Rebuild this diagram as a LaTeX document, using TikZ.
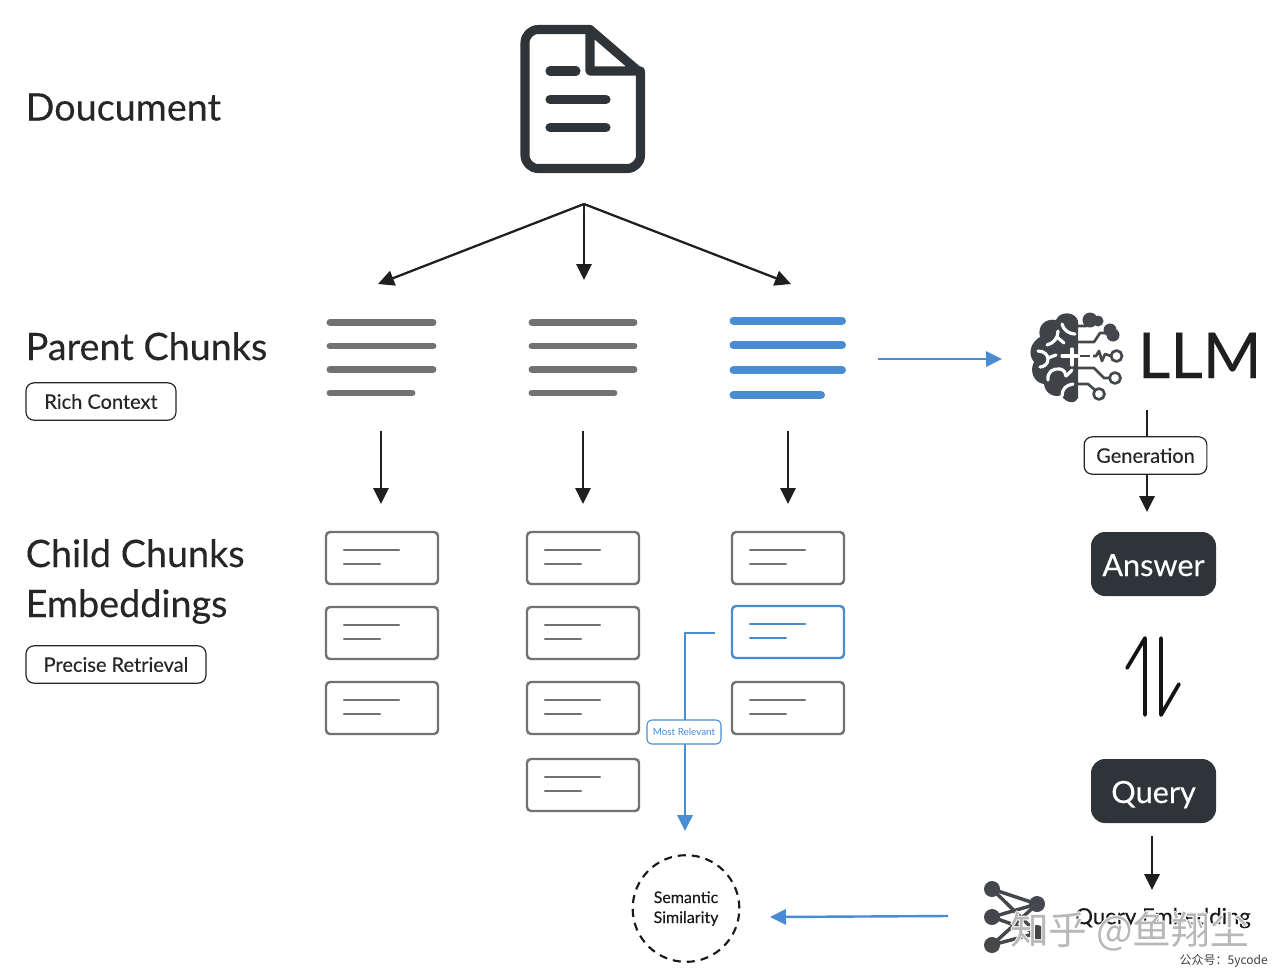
\documentclass[tikz,border=0pt]{standalone}
\usepackage{fontspec}
\setmainfont{Lato}
\newfontfamily\headfont[FakeBold=0.2]{Lato}
\newfontfamily\cjkfont{Noto Sans CJK SC}
\usetikzlibrary{arrows.meta,calc}
\definecolor{inkdark}{HTML}{2F3438}
\definecolor{chunkgray}{HTML}{727272}
\definecolor{chunkblue}{HTML}{4A8CD2}
\tikzset{
	flow/.style={line width=1.7pt, color=black!88, -{Triangle[length=12pt,width=11.5pt]}},
	flowblue/.style={line width=1.8pt, color=chunkblue, -{Triangle[length=12pt,width=11.5pt]}},
	heading/.style={anchor=base west, inner sep=0pt, font=\headfont\fontsize{28.3}{28.3}\selectfont, text=black!85},
	tagbox/.style={draw=black!85, fill=white, line width=0.9pt, rounded corners=6pt, inner sep=0pt, font=\headfont\fontsize{15}{15}\selectfont, text=black!85},
	darkbox/.style={fill=inkdark, rounded corners=10.5pt, minimum width=93.75pt, minimum height=48pt, inner sep=0pt, text=white, text height=18pt, text depth=0pt, font=\headfont\fontsize{23}{23}\selectfont},
	parentline/.style={line width=5.2pt, line cap=round, color=chunkgray},
	parentblue/.style={line width=6pt, line cap=round, color=chunkblue},
	childbox/.style={draw, line width=1.8pt, rounded corners=3pt, color=chunkgray},
	childline/.style={line width=1.7pt, line cap=round, color=chunkgray},
	iconline/.style={line width=6.8pt, line cap=round, line join=round, color=inkdark},
	brainwire/.style={line width=2pt, color=inkdark!90, line join=round},
	braincut/.style={line width=2.4pt, color=white, line cap=round},
	netline/.style={line width=2.6pt, color=inkdark!90},
}
\newcommand{\childchunk}[3][]{
	\draw[childbox,#1] (#2, #3) rectangle ++(112, 52);
	\draw[childline,#1] (#2+18, #3+18) -- ++(55, 0);
	\draw[childline,#1] (#2+18, #3+32) -- ++(36, 0);
}
\begin{document}
\begin{tikzpicture}[x=0.75pt, y=-0.75pt]
		%%%%% START %%%%%
		\useasboundingbox (0, 0) rectangle (1280, 979);
		
		% document icon
		\draw[iconline, rounded corners=10pt] (590, 29.5) -- (525, 29.5) -- (525, 168.5) -- (640.5, 168.5) -- (640.5, 73);
		\draw[iconline] (640.5, 73) -- (590, 29.5) -- (590, 71) -- (640.5, 71);
		\draw[iconline] (550, 71) -- (576, 71);
		\draw[iconline] (550, 99.5) -- (606, 99.5);
		\draw[iconline] (550, 127.5) -- (606, 127.5);
		
		\node[heading] (doctitle) at (25.5, 120.5) {Doucument};
		\node[heading] (parenttitle) at (25.5, 360) {Parent Chunks};
		\node[heading] (childtitle) at (25.5, 567) {Child Chunks};
		\node[heading] (embedtitle) at (25.5, 617) {Embeddings};
		\node[tagbox, minimum width=112.5pt, minimum height=28pt] (richtag) at (101, 401.5) {Rich Context};
		\node[tagbox, minimum width=135pt, minimum height=28pt] (precisetag) at (116, 664.5) {Precise Retrieval};
		
		% split arrows
		\coordinate (split) at (584, 204);
		\coordinate (parentA) at (378, 284);
		\coordinate (parentB) at (584, 280);
		\coordinate (parentC) at (791, 284);
		\draw[flow] (split) -- (parentA);
		\draw[flow] (split) -- (parentB);
		\draw[flow] (split) -- (parentC);
		
		% parent chunks
		\draw[parentline] (330, 322.5) -- (433, 322.5);
		\draw[parentline] (330, 346) -- (433, 346);
		\draw[parentline] (330, 369.5) -- (433, 369.5);
		\draw[parentline] (330, 393) -- (412, 393);
		\draw[parentline] (532, 322.5) -- (634, 322.5);
		\draw[parentline] (532, 346) -- (634, 346);
		\draw[parentline] (532, 369.5) -- (634, 369.5);
		\draw[parentline] (532, 393) -- (614, 393);
		\draw[parentblue] (733.5, 320.5) -- (842, 320.5);
		\draw[parentblue] (733.5, 345) -- (842, 345);
		\draw[parentblue] (733.5, 370) -- (842, 370);
		\draw[parentblue] (733.5, 395) -- (821, 395);
		
		% parent to child
		\coordinate (downAtop) at (381, 431);
		\coordinate (downAend) at (381, 504);
		\coordinate (downBtop) at (583, 431);
		\coordinate (downBend) at (583, 504);
		\coordinate (downCtop) at (788, 431);
		\coordinate (downCend) at (788, 504);
		\draw[flow] (downAtop) -- (downAend);
		\draw[flow] (downBtop) -- (downBend);
		\draw[flow] (downCtop) -- (downCend);
		
		% child chunks
		\foreach \y in {532, 607, 682} {
			\childchunk{326}{\y}
		}
		\foreach \y in {532, 607, 682, 759} {
			\childchunk{527}{\y}
		}
		\childchunk{732}{532}
		\childchunk[color=chunkblue]{732}{606}
		\childchunk{732}{682}
		
		% most relevant
		\node[circle, draw, line width=1.6pt, dash pattern=on 6pt off 4.5pt, minimum size=80pt, inner sep=0pt, align=center, font=\headfont\fontsize{12}{15}\selectfont, color=black!90] (similarity) at (686, 908.5) {Semantic\\Similarity};
		\coordinate (relstart) at (715, 633);
		\coordinate (relend) at (685, 831);
		\draw[flowblue] (relstart) -| (relend);
		\node[draw=chunkblue, fill=white, line width=0.8pt, rounded corners=3.5pt, minimum width=55.5pt, minimum height=18pt, inner sep=0pt, text=chunkblue, font=\fontsize{7.4}{7.4}\selectfont] (reltag) at (684, 732) {Most Relevant};
		
		% llm icon
		\fill[inkdark!92] (1078, 321) .. controls (1076, 312) and (1060, 310) .. (1056, 320)
			.. controls (1045, 318) and (1037, 326) .. (1040, 337)
			.. controls (1031, 342) and (1027, 354) .. (1034, 362)
			.. controls (1029, 371) and (1034, 383) .. (1044, 384)
			.. controls (1045, 394) and (1055, 398) .. (1061, 395)
			.. controls (1066, 404) and (1076, 404) .. (1078, 398) -- cycle;
		\draw[braincut] (1062, 324) .. controls (1064, 331) and (1070, 334) .. (1075, 334);
		\draw[braincut] (1047, 345) .. controls (1054, 343) and (1058, 338) .. (1058, 331);
		\draw[braincut] (1058, 338) -- (1064, 343);
		\draw[braincut] (1038, 351) .. controls (1044, 351) and (1048, 355) .. (1048, 359) .. controls (1048, 364) and (1044, 367) .. (1040, 367);
		\draw[braincut] (1048, 358) -- (1056, 355);
		\draw[braincut] (1062, 356) -- (1077, 356);
		\draw[braincut] (1072, 349) -- (1072, 365);
		\draw[braincut] (1048, 380) .. controls (1047, 372) and (1053, 368) .. (1060, 369) .. controls (1064, 370) and (1066, 373) .. (1066, 376);
		\draw[braincut] (1066, 376) -- (1072, 370);
		\draw[braincut] (1062, 396) .. controls (1062, 389) and (1066, 385) .. (1073, 384);
		\draw[brainwire] (1078, 326) -- (1086, 326) -- (1093, 320);
		\fill[inkdark!90] (1090, 320) circle (7.5) (1098, 321) circle (5.5);
		\draw[brainwire] (1078, 342) -- (1094, 342) -- (1100, 333) -- (1108, 333);
		\fill[inkdark!90] (1110, 330) circle (6.5) (1113, 335) circle (6.5);
		\draw[brainwire] (1080, 356) -- (1090, 356);
		\draw[brainwire] (1093, 356) -- (1096, 356) -- (1099, 351) -- (1102, 361) -- (1105, 354) -- (1111, 356);
		\draw[brainwire] (1116.5, 356) circle (5.5);
		\draw[brainwire] (1078, 368) -- (1094, 368) -- (1104, 378) -- (1109, 378);
		\draw[brainwire] (1115, 378) circle (5.5);
		\draw[brainwire] (1078, 384) -- (1088, 384) -- (1095, 390);
		\draw[brainwire] (1099, 394) circle (5.5);
		\node[anchor=base west, inner sep=0pt, font=\headfont\fontsize{47.5}{47.5}\selectfont, text=black!88] (llm) at (1137.5, 378) {LLM};
		
		\coordinate (chunkout) at (878, 359);
		\coordinate (llmin) at (1002, 359);
		\draw[flowblue] (chunkout) -- (llmin);
		
		% generation
		\coordinate (gentop) at (1147, 410);
		\coordinate (genend) at (1147, 512);
		\draw[flow] (gentop) -- (genend);
		\node[tagbox, minimum width=92pt, minimum height=28pt] (gentag) at (1145.5, 455.5) {Generation};
		
		\node[darkbox] (answer) at (1153.5, 564) {Answer};
		\node[darkbox] (query) at (1153.5, 791) {Query};
		
		% up and down harpoons
		\draw[line width=2.8pt, line cap=round, line join=round, color=black!92] (1145, 715) -- (1145, 638) -- (1127, 668);
		\draw[line width=2.8pt, line cap=round, line join=round, color=black!92] (1161, 638) -- (1161, 715) -- (1179, 684);
		
		\coordinate (queryout) at (1152, 836);
		\coordinate (queryend) at (1152, 890);
		\draw[flow] (queryout) -- (queryend);
		
		% query embedding icon
		\draw[netline] (992, 889) -- (1037, 904) -- (992, 917) -- (1037, 933) -- (992, 945) -- (1037, 904);
		\draw[netline] (992, 889) -- (1037, 933);
		\fill[inkdark!90] (992, 889) circle (8) (1037, 904) circle (8) (992, 917) circle (8) (992, 945) circle (8) (1037, 933) circle (8);
		\node[anchor=west, inner sep=0pt, font=\headfont\fontsize{16.6}{16.6}\selectfont, text=black!90] (embedding) at (1075, 918) {Query Embedding};
		
		\coordinate (embedout) at (948, 916);
		\coordinate (simin) at (770, 917);
		\draw[flowblue] (embedout) -- (simin);
		
		% watermark
		\foreach \dx/\dy in {-1/0, 1/0, 0/-1, 0/1} {
			\node[anchor=west, inner sep=0pt, font=\cjkfont\fontsize{29}{29}\selectfont, text=white] at (1010+\dx, 932+\dy) {知乎 @鱼翔尘};
		}
		\node[anchor=west, inner sep=0pt, font=\cjkfont\fontsize{29}{29}\selectfont, text=black!28] (watermark) at (1010, 932) {知乎 @鱼翔尘};
		\node[anchor=east, inner sep=0pt, font=\cjkfont\fontsize{9}{9}\selectfont, text=black!75] (account) at (1268, 960.5) {公众号：5ycode};
		
		%%%%% END %%%%%
	\end{tikzpicture}
\end{document}
